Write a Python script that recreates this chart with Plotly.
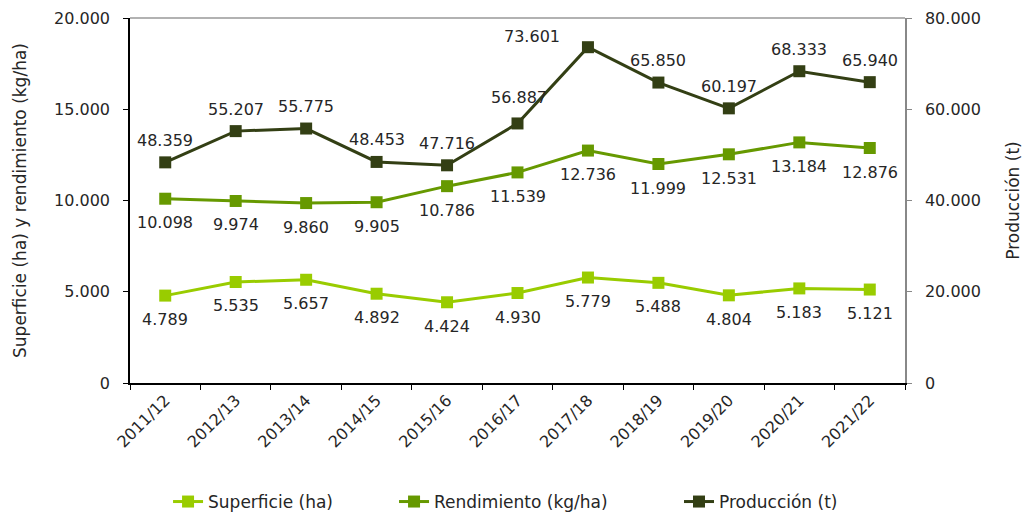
import plotly.graph_objects as go

campaigns = ["2011/12", "2012/13", "2013/14", "2014/15", "2015/16", "2016/17",
             "2017/18", "2018/19", "2019/20", "2020/21", "2021/22"]
superficie = [4789, 5535, 5657, 4892, 4424, 4930, 5779, 5488, 4804, 5183, 5121]
rendimiento = [10098, 9974, 9860, 9905, 10786, 11539, 12736, 11999, 12531, 13184, 12876]
produccion = [48359, 55207, 55775, 48453, 47716, 56887, 73601, 65850, 60197, 68333, 65940]

C_SUP = "#99CC00"
C_REN = "#669900"
C_PRO = "#333F14"
FONT = "DejaVu Sans"
TXT = "#262626"

def fmt(v):
    return f"{v:,}".replace(",", ".")

fig = go.Figure()
fig.add_trace(go.Scatter(x=campaigns, y=superficie, name="Superficie (ha)", mode="lines+markers",
                         line=dict(color=C_SUP, width=3), marker=dict(symbol="square", size=12, color=C_SUP),
                         legend="legend"))
fig.add_trace(go.Scatter(x=campaigns, y=rendimiento, name="Rendimiento (kg/ha)", mode="lines+markers",
                         line=dict(color=C_REN, width=3), marker=dict(symbol="square", size=12, color=C_REN),
                         legend="legend2"))
fig.add_trace(go.Scatter(x=campaigns, y=produccion, name="Producción (t)", mode="lines+markers",
                         line=dict(color=C_PRO, width=3), marker=dict(symbol="square", size=12, color=C_PRO),
                         yaxis="y2", legend="legend3"))

ann = []
for i, c in enumerate(campaigns):
    ann.append(dict(x=c, y=superficie[i], text=fmt(superficie[i]), showarrow=False,
                    yshift=-24, xref="x", yref="y", font=dict(family=FONT, size=16, color=TXT)))
    ann.append(dict(x=c, y=rendimiento[i], text=fmt(rendimiento[i]), showarrow=False,
                    yshift=-24, xref="x", yref="y", font=dict(family=FONT, size=16, color=TXT)))
    xs, ys = 0, 22
    if c == "2017/18":
        xs, ys = -56, 11
    elif c == "2016/17":
        xs, ys = 1, 26
    ann.append(dict(x=c, y=produccion[i], text=fmt(produccion[i]), showarrow=False,
                    xshift=xs, yshift=ys, xref="x", yref="y2", font=dict(family=FONT, size=16, color=TXT)))

leg_common = dict(orientation="h", xanchor="left", y=-0.326, yanchor="middle",
                  font=dict(family=FONT, size=17, color=TXT), bgcolor="rgba(0,0,0,0)")

fig.update_layout(
    width=1030, height=517,
    margin=dict(l=130, r=125, t=18, b=134, autoexpand=False),
    paper_bgcolor="white", plot_bgcolor="white",
    separators=",.",
    font=dict(family=FONT, size=15, color=TXT),
    showlegend=True,
    legend=dict(x=0.0491, **leg_common),
    legend2=dict(x=0.3407, **leg_common),
    legend3=dict(x=0.7084, **leg_common),
    annotations=ann,
    xaxis=dict(type="category", range=[-0.5, 10.5], tickangle=-45, showline=True, linecolor="black",
               linewidth=1.5, ticks="outside", tickson="boundaries", ticklen=5, tickcolor="black",
               showgrid=False, automargin=False, tickfont=dict(family=FONT, size=16, color=TXT)),
    yaxis=dict(range=[0, 20000], dtick=5000, tickformat=",", showline=True, linecolor="black",
               linewidth=1.5, ticks="outside", ticklen=5, tickcolor="black", showgrid=False, zeroline=False,
               automargin=False, ticklabelstandoff=10,
               title=dict(text="Superficie (ha) y rendimiento (kg/ha)", font=dict(family=FONT, size=17, color=TXT),
                          standoff=23),
               tickfont=dict(family=FONT, size=16, color=TXT)),
    yaxis2=dict(range=[0, 80000], dtick=20000, tickformat=",", overlaying="y", side="right",
                showline=True, linecolor="#888888", linewidth=1.5, ticks="outside", ticklen=5,
                tickcolor="#888888", showgrid=False, zeroline=False, automargin=False, ticklabelstandoff=10,
                title=dict(text="Producción (t)", font=dict(family=FONT, size=17, color=TXT), standoff=27),
                tickfont=dict(family=FONT, size=16, color=TXT)),
    shapes=[dict(type="line", xref="paper", yref="paper", x0=0, x1=1, y0=1, y1=1,
                 line=dict(color="#999999", width=1.5))],
)

fig.write_html("out.html", config={"displayModeBar": False},
               post_script="document.body.style.margin='0px';document.body.style.overflow='hidden';")
